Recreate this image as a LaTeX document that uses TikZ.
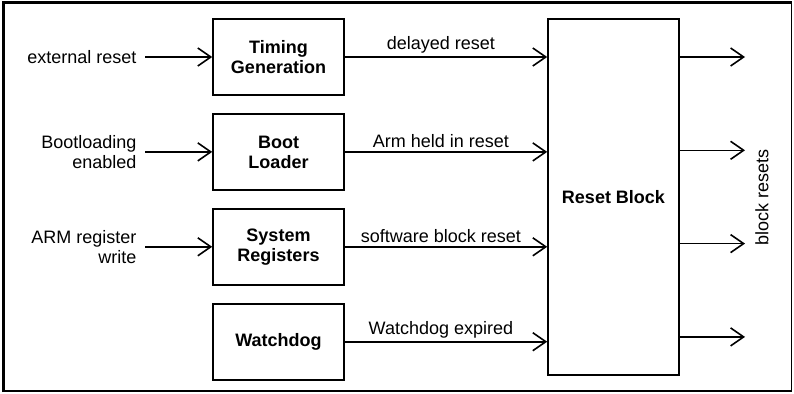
\documentclass[tikz,border=0pt]{standalone}
\usepackage{fontspec}
\setmainfont{Liberation Sans}
\usetikzlibrary{positioning,arrows.meta}

\begin{document}
\begin{tikzpicture}[%
    x=1pt,
    y=-1pt,
    line width=1.6pt,
    flow/.style={-{Straight Barb[length=13pt,width=18pt,line width=1.6pt]}},
    font=\fontsize{18}{20}\selectfont,
    node distance=17.3pt,
    block/.style={%
      rectangle,
      draw,
      align=center,
      font=\fontsize{18}{20}\selectfont\bfseries,
      minimum width=131pt,
      minimum height=76pt
    },
    signal/.style={%
      align=right,
      inner xsep=8pt,
      inner ysep=0pt
    },
    tag/.style={%
      above,
      inner sep=3pt,
      pos=0.475
    }
  ]
    \useasboundingbox (0,0) rectangle (794,393);

    % frame
    \draw[line width=3pt] (3,392) -- (3,2.5) -- (792,2.5);
    \draw[line width=1.2pt] (791.5,2.5) -- (791.5,391);
    \draw[line width=2pt] (3,391) -- (792,391);

    \node[block] (timing) at (278.5,57)          {Timing\\Generation};
    \node[block] (boot) [below=of timing]        {Boot\\Loader};
    \node[block] (sysreg) [below=of boot]        {System\\Registers};
    \node[block] (watchdog) [below=of sysreg]    {Watchdog};
    \node[block, minimum height=356pt] (reset) at (613.5,197) {Reset Block};

    \node[signal] (extreset) [node distance=67pt, left=of timing] {external reset};
    \node[signal] (bootin) [node distance=67pt, left=of boot]     {Bootloading\\enabled};
    \node[signal] (armwrite) [node distance=67pt, left=of sysreg] {ARM register\\write};

    \coordinate (out1) at (745,57);
    \coordinate (out2) at (745,150.3);
    \coordinate (out3) at (745,243.6);
    \coordinate (out4) at (745,336.9);

    \node[rotate=90] (blockresets) at (762,197) {block resets};

    \path[flow] (extreset) edge (timing)
          (bootin) edge (boot)
          (armwrite) edge (sysreg)
          (timing) edge node[tag] {delayed reset} (reset.west |- timing)
          (boot) edge node[tag] {Arm held in reset} (reset.west |- boot)
          (sysreg) edge node[tag] {software block reset} (reset.west |- sysreg)
          (watchdog) edge node[tag] {Watchdog expired} (reset.west |- watchdog)
          (reset.east |- out1) edge (out1)
          (reset.east |- out2) edge (out2)
          (reset.east |- out3) edge (out3)
          (reset.east |- out4) edge (out4)
          ;
  \end{tikzpicture}
\end{document}
